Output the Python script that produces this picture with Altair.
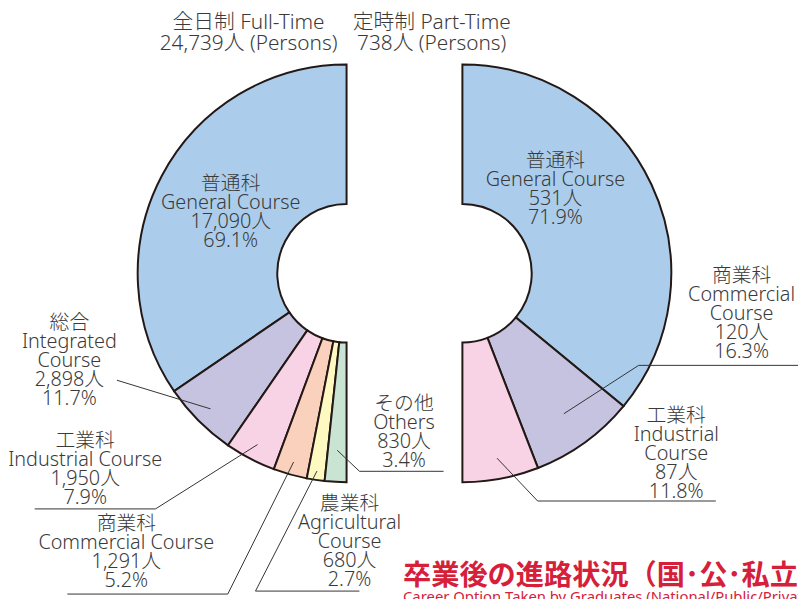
import math
import altair as alt
import pandas as pd

# ---------------- data ----------------
ft_jp = ["普通科", "総合", "工業科", "商業科", "農業科", "その他"]
ft_en = ["General Course", "Integrated Course", "Industrial Course",
         "Commercial Course", "Agricultural Course", "Others"]
ft_counts = [17090, 2898, 1950, 1291, 680, 830]
ft_pcts = [69.1, 11.7, 7.9, 5.2, 2.7, 3.4]
ft_total = 24739

pt_jp = ["普通科", "商業科", "工業科"]
pt_en = ["General Course", "Commercial Course", "Industrial Course"]
pt_counts = [531, 120, 87]
pt_pcts = [71.9, 16.3, 11.8]
pt_total = 738

ft_colors = ["#abcdeb", "#c6c3e1", "#f8d3e5", "#f9d1bd", "#fef8c1", "#c9e4d2"]
pt_colors = ["#abcdeb", "#c6c3e1", "#f8d3e5"]

# ---------------- layout ----------------
W, H = 798, 591
CY = 265
CX_L, CX_R = 342, 459
R_OUT, R_IN = 211, 70
FONT = "Noto Sans, Noto Sans CJK JP, sans-serif"
TXT = "#3a3a3a"

# english-name line break per label (layout only)
ft_wrap = [False, True, False, False, True, False]
pt_wrap = [False, True, True]
# position of the first text line of each label
ft_pos = [(225, 175), (62, 315), (78, 434), (119.5, 518), (345, 498), (400, 397)]
pt_pos = [(553, 152), (741, 268), (675, 409)]
# leader lines: (radius of inner anchor, list of further points)
ft_lead = [None, (194, [(110, 373)]), (195, [(149, 503), (27, 503)]),
           (198, [(222, 589), (60, 589)]), (202, [(250, 586), (355, 586)]),
           (179, [(355, 465), (440, 465)])]
pt_lead = [None, (175, [(637, 358), (800, 358)]), (190, [(535, 495), (715, 495)])]


def fmt_label(jp, en, cnt, pct, wrap):
    name = en.replace(" ", "\n") if wrap else en
    return f"{jp}\n{name}\n{cnt:,}人\n{pct:.1f}%"


def mid_angles(counts, total, start, direction):
    out = []
    a = start
    for c in counts:
        span = c / total * 180.0 * direction
        out.append(a + span / 2)
        a += span
    return out


ft_df = pd.DataFrame({"name": ft_en, "count": ft_counts, "ord": range(len(ft_en)),
                      "color": ft_colors})
pt_df = pd.DataFrame({"name": pt_en, "count": pt_counts, "ord": range(len(pt_en)),
                      "color": pt_colors})

arc_style = dict(outerRadius=R_OUT, innerRadius=R_IN, stroke="#231815",
                 strokeWidth=2, strokeJoin="miter")

left_arc = alt.Chart(ft_df).mark_arc(**arc_style).encode(
    theta=alt.Theta("count:Q", stack=True,
                    scale=alt.Scale(range=[2 * math.pi, math.pi])),
    order=alt.Order("ord:Q"),
    fill=alt.Fill("color:N", scale=None),
    x=alt.value(CX_L), y=alt.value(CY),
)
right_arc = alt.Chart(pt_df).mark_arc(**arc_style).encode(
    theta=alt.Theta("count:Q", stack=True,
                    scale=alt.Scale(range=[0, math.pi])),
    order=alt.Order("ord:Q"),
    fill=alt.Fill("color:N", scale=None),
    x=alt.value(CX_R), y=alt.value(CY),
)

# labels
lab_rows = []
for i in range(len(ft_en)):
    lab_rows.append({"t": fmt_label(ft_jp[i], ft_en[i], ft_counts[i], ft_pcts[i], ft_wrap[i]),
                     "x": ft_pos[i][0], "y": ft_pos[i][1]})
for i in range(len(pt_en)):
    lab_rows.append({"t": fmt_label(pt_jp[i], pt_en[i], pt_counts[i], pt_pcts[i], pt_wrap[i]),
                     "x": pt_pos[i][0], "y": pt_pos[i][1]})
lab_df = pd.DataFrame(lab_rows)

head_df = pd.DataFrame({
    "t": [f"全日制 Full-Time\n{ft_total:,}人 (Persons)",
          f"定時制 Part-Time\n{pt_total:,}人 (Persons)"],
    "x": [243, 428], "y": [12, 12],
})

labels = alt.Chart(lab_df).mark_text(
    font=FONT, fontSize=20, lineHeight=19.2, lineBreak="\n", color=TXT,
    align="center", baseline="middle", fontWeight=300,
).encode(
    x=alt.X("x:Q", scale=None, axis=None),
    y=alt.Y("y:Q", scale=None, axis=None),
    text="t:N",
)
heads = alt.Chart(head_df).mark_text(
    font=FONT, fontSize=21, lineHeight=21.5, lineBreak="\n", color=TXT,
    align="center", baseline="middle", fontWeight=300,
).encode(
    x=alt.X("x:Q", scale=None, axis=None),
    y=alt.Y("y:Q", scale=None, axis=None),
    text="t:N",
)

# leader lines
lead_rows = []
ft_mid = mid_angles(ft_counts, ft_total, 360.0, -1)
pt_mid = mid_angles(pt_counts, pt_total, 0.0, 1)
for centre, mids, leads, tag in [(CX_L, ft_mid, ft_lead, "L"), (CX_R, pt_mid, pt_lead, "R")]:
    for i, ld in enumerate(leads):
        if ld is None:
            continue
        r, pts = ld
        a = math.radians(mids[i])
        ax, ay = centre + r * math.sin(a), CY - r * math.cos(a)
        seq = [(ax, ay)] + pts
        for k, (px, py) in enumerate(seq):
            lead_rows.append({"id": f"{tag}{i}", "k": k, "x": px, "y": py})
lead_df = pd.DataFrame(lead_rows)

leaders = alt.Chart(lead_df).mark_line(color="#333333", strokeWidth=1).encode(
    x=alt.X("x:Q", scale=None, axis=None),
    y=alt.Y("y:Q", scale=None, axis=None),
    detail="id:N",
    order="k:Q",
)

# bottom title
title_df = pd.DataFrame({
    "t": ["卒業後の進路状況（国･公･私立）",
          "Career Option Taken by Graduates (National/Public/Private)"],
    "x": [399, 399], "y": [571, 585],
})
big_title = alt.Chart(title_df.iloc[[0]]).mark_text(
    font="Noto Sans CJK JP", fontSize=28.5, fontWeight="bold", color="#d6203a",
    align="left", baseline="middle",
).encode(x=alt.X("x:Q", scale=None, axis=None),
         y=alt.Y("y:Q", scale=None, axis=None), text="t:N")
sub_title = alt.Chart(title_df.iloc[[1]]).mark_text(
    font=FONT, fontSize=15, color="#d6203a", align="left", baseline="top",
).encode(x=alt.X("x:Q", scale=None, axis=None),
         y=alt.Y("y:Q", scale=None, axis=None), text="t:N")

chart = alt.layer(left_arc, right_arc, leaders, labels, heads, big_title, sub_title).resolve_scale(
    theta="independent"
).properties(
    width=W, height=H, padding=0,
    autosize=alt.AutoSizeParams(type="none"),
).configure_view(stroke=None)

chart.save("out.html", embed_options={"renderer": "svg", "actions": False})
